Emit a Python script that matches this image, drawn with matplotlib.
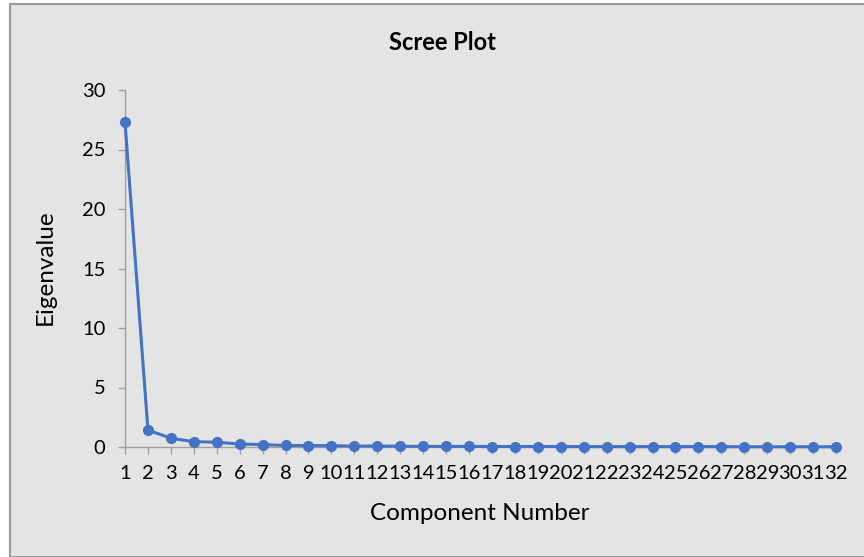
import matplotlib
matplotlib.use("Agg")
import matplotlib.pyplot as plt
from matplotlib.patches import Rectangle

# component numbers and eigenvalues
components = list(range(1, 33))
eigenvalues = [27.3, 1.43, 0.73, 0.45, 0.40, 0.25, 0.20, 0.13, 0.12, 0.11,
               0.08, 0.08, 0.07, 0.05, 0.05, 0.05, 0.04, 0.04, 0.04, 0.04,
               0.03, 0.03, 0.03, 0.03, 0.03, 0.03, 0.03, 0.02, 0.02, 0.02,
               0.02, 0.02]
y_ticks = [0, 5, 10, 15, 20, 25, 30]

BG = "#e4e4e4"
LINE = "#4472c4"
AXIS = "#a0a0a0"
W, H = 864, 557

plt.rcParams["font.family"] = ["Lato", "DejaVu Sans"]

fig = plt.figure(figsize=(W / 100, H / 100), dpi=100)
fig.patch.set_facecolor("white")

# chart area frame, like the excel chart box
frame = Rectangle((9.5 / W, 0), 1, 1 - 3.5 / H, transform=fig.transFigure,
                  facecolor=BG, edgecolor="#9a9a9a", linewidth=1.5, zorder=-10)
fig.add_artist(frame)

ax = fig.add_axes([125 / W, 1 - 447 / H, (836 - 125) / W, (447 - 90) / H])
ax.set_facecolor("none")
ax.set_zorder(1)

ax.plot(components, eigenvalues, color=LINE, linewidth=2.2, marker="o",
        markersize=7, markerfacecolor=LINE, markeredgecolor=LINE, clip_on=False, zorder=3)

ax.set_xlim(1, 32)
ax.set_ylim(0, 30)
ax.set_xticks(components)
ax.set_xticklabels([str(c) for c in components])
ax.set_yticks(y_ticks)

for side in ["top", "right"]:
    ax.spines[side].set_visible(False)
for side in ["left", "bottom"]:
    ax.spines[side].set_color(AXIS)
    ax.spines[side].set_linewidth(1.0)

ax.tick_params(axis="both", colors=AXIS, labelcolor="black", labelsize=14.5,
               length=5, width=1.0, direction="out")
ax.tick_params(axis="x", pad=8)
ax.tick_params(axis="y", pad=9)

# title and axis titles placed like in the excel chart
fig.text(442 / W, 1 - 42 / H, "Scree Plot", fontsize=17, fontweight="bold",
         ha="center", va="center")
fig.text(480 / W, 1 - 513 / H, "Component Number", fontsize=17.5,
         ha="center", va="center")
fig.text(45 / W, 1 - 267 / H, "Eigenvalue", fontsize=17.5, rotation=90,
         ha="center", va="center")

fig.savefig("out.png", dpi=100, facecolor=fig.get_facecolor())
